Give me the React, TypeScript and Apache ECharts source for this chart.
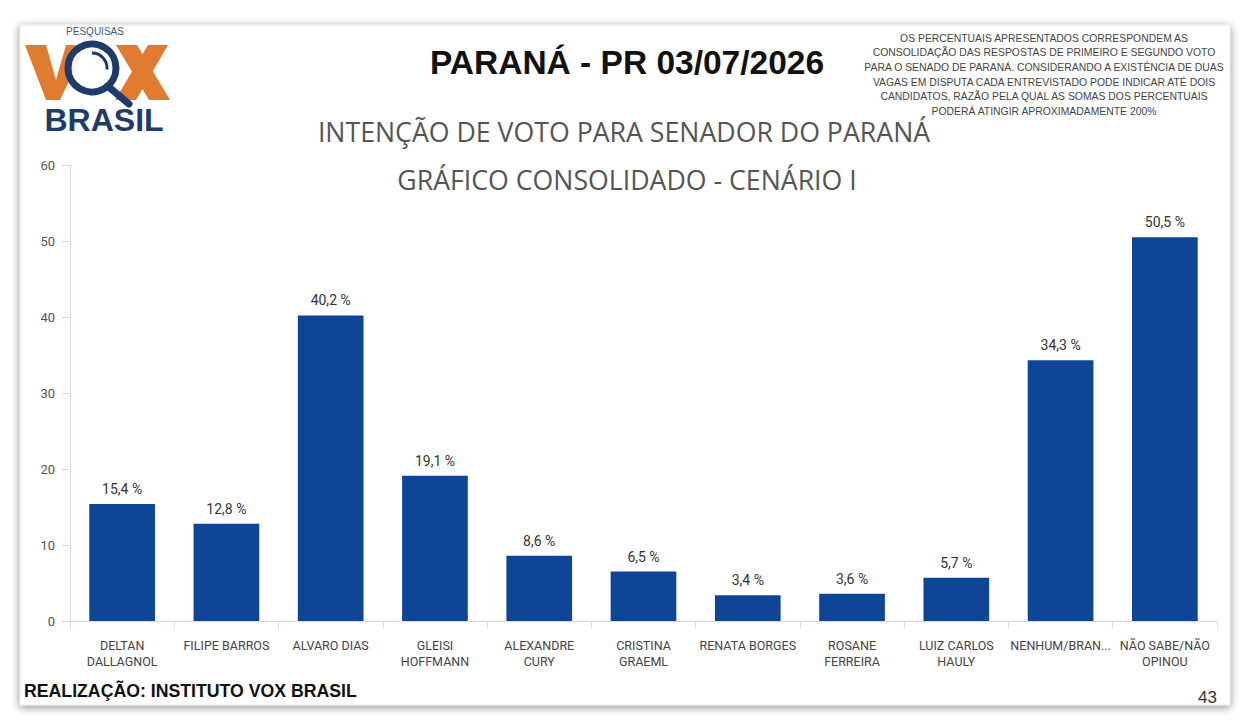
import React, { useEffect, useRef } from "react";
import * as echarts from "echarts";

const categories = [
  "DELTAN\nDALLAGNOL",
  "FILIPE BARROS",
  "ALVARO DIAS",
  "GLEISI\nHOFFMANN",
  "ALEXANDRE\nCURY",
  "CRISTINA\nGRAEML",
  "RENATA BORGES",
  "ROSANE\nFERREIRA",
  "LUIZ CARLOS\nHAULY",
  "NENHUM/BRAN...",
  "NÃO SABE/NÃO\nOPINOU",
];
const values = [15.4, 12.8, 40.2, 19.1, 8.6, 6.5, 3.4, 3.6, 5.7, 34.3, 50.5];
const yTicks = [0, 10, 20, 30, 40, 50, 60];

const title = "PARANÁ - PR 03/07/2026";
const subtitle1 = "INTENÇÃO DE VOTO PARA SENADOR DO PARANÁ";
const subtitle2 = "GRÁFICO CONSOLIDADO - CENÁRIO I";
const noteLines = [
  "OS PERCENTUAIS APRESENTADOS CORRESPONDEM AS",
  "CONSOLIDAÇÃO DAS RESPOSTAS DE PRIMEIRO E SEGUNDO VOTO",
  "PARA O SENADO DE PARANÁ. CONSIDERANDO A EXISTÊNCIA DE DUAS",
  "VAGAS EM DISPUTA CADA ENTREVISTADO PODE INDICAR ATÉ DOIS",
  "CANDIDATOS, RAZÃO PELA QUAL AS SOMAS DOS PERCENTUAIS",
  "PODERÁ ATINGIR APROXIMADAMENTE 200%",
];
const footer = "REALIZAÇÃO: INSTITUTO VOX BRASIL";
const pageNo = "43";

const LABEL_FONT = "Roboto, 'Liberation Sans', sans-serif";
const ARIAL = "'Liberation Sans', Arial, sans-serif";
const ORANGE = "#E07A2E";
const NAVY = "#1D3C6B";

export default function App() {
  const ref = useRef<HTMLDivElement>(null);
  useEffect(() => {
    if (!ref.current) return;
    const chart = echarts.init(ref.current, null, { renderer: "svg" });
    chart.setOption({
      animation: false,
      backgroundColor: "#ffffff",
      grid: { left: 70, right: 25, top: 165, bottom: 99 },
      xAxis: {
        type: "category",
        data: categories,
        boundaryGap: true,
        axisLine: { show: true, lineStyle: { color: "#d5dbe3" } },
        axisTick: { show: true, length: 8, lineStyle: { color: "#d5dbe3" } },
        axisLabel: {
          interval: 0,
          color: "#444",
          fontFamily: LABEL_FONT,
          fontSize: 12.5,
          lineHeight: 16,
          margin: 16,
        },
      },
      yAxis: {
        type: "value",
        min: yTicks[0],
        max: yTicks[yTicks.length - 1],
        interval: 10,
        axisLine: { show: true, lineStyle: { color: "#d5dbe3" } },
        axisTick: { show: true, length: 8, lineStyle: { color: "#d5dbe3" } },
        splitLine: { show: false },
        axisLabel: { color: "#555", fontFamily: LABEL_FONT, fontSize: 13, margin: 15 },
      },
      series: [
        {
          type: "bar",
          data: values,
          barWidth: "63%",
          itemStyle: { color: "#0E4597" },
          label: {
            show: true,
            position: "top",
            distance: 8,
            color: "#333",
            fontFamily: LABEL_FONT,
            fontSize: 14,
            formatter: (p: any) => String(p.value).replace(".", ",") + " %",
          },
        },
      ],
      graphic: [
        {
          type: "rect",
          z: -10,
          shape: { x: 20, y: 25, width: 1210, height: 680 },
          style: {
            fill: "#ffffff",
            stroke: "#e4e8ec",
            lineWidth: 1,
            shadowBlur: 8,
            shadowColor: "rgba(0,0,0,0.45)",
            shadowOffsetY: 2,
          },
        },
        {
          type: "text",
          x: 627,
          y: 62,
          style: {
            text: title,
            fontSize: 33.5,
            fontWeight: "bold",
            fontFamily: ARIAL,
            fill: "#111",
            align: "center",
            verticalAlign: "middle",
          },
        },
        {
          type: "text",
          x: 624,
          y: 131,
          style: {
            text: subtitle1,
            fontSize: 26.7,
            fontFamily: "'Open Sans', sans-serif",
            fill: "#555",
            align: "center",
            verticalAlign: "middle",
          },
        },
        {
          type: "text",
          x: 627,
          y: 179,
          style: {
            text: subtitle2,
            fontSize: 26.7,
            fontFamily: "'Open Sans', sans-serif",
            fill: "#555",
            align: "center",
            verticalAlign: "middle",
          },
        },
        {
          type: "text",
          x: 1044,
          y: 31,
          style: {
            text: noteLines.join("\n"),
            fontSize: 10.4,
            lineHeight: 14.6,
            fontFamily: ARIAL,
            fill: "#444",
            align: "center",
            verticalAlign: "top",
          },
        },
        {
          type: "text",
          x: 24,
          y: 691,
          style: {
            text: footer,
            fontSize: 17.7,
            fontWeight: "bold",
            fontFamily: ARIAL,
            fill: "#111",
            align: "left",
            verticalAlign: "middle",
          },
        },
        {
          type: "text",
          x: 1217,
          y: 697,
          style: {
            text: pageNo,
            fontSize: 17,
            fontFamily: ARIAL,
            fill: "#333",
            align: "right",
            verticalAlign: "middle",
          },
        },
        // logo
        {
          type: "group",
          children: [
            {
              type: "text",
              x: 95,
              y: 31,
              style: {
                text: "PESQUISAS",
                fontSize: 10,
                lineHeight: 10,
                fontFamily: ARIAL,
                fill: "#3a5a88",
                align: "center",
                verticalAlign: "middle",
              },
            },
            {
              type: "polygon",
              shape: {
                points: [
                  [25, 45], [46, 45], [56, 80], [66, 45], [86, 45], [60, 100], [46, 100],
                ],
              },
              style: { fill: ORANGE },
            },
            {
              type: "polygon",
              shape: { points: [[116, 45], [137, 45], [170, 100], [149, 100]] },
              style: { fill: ORANGE },
            },
            {
              type: "polygon",
              shape: { points: [[148, 45], [168, 45], [136, 100], [115, 100]] },
              style: { fill: ORANGE },
            },
            {
              type: "circle",
              shape: { cx: 92, cy: 68, r: 24 },
              style: { fill: "rgba(255,255,255,0.9)", stroke: NAVY, lineWidth: 7 },
            },
            {
              type: "arc",
              shape: { cx: 92, cy: 68, r: 15, startAngle: -Math.PI * 0.5, endAngle: 0.1 },
              style: { stroke: NAVY, lineWidth: 3, fill: "none" },
            },
            {
              type: "line",
              shape: { x1: 110, y1: 88, x2: 129, y2: 104 },
              style: { stroke: NAVY, lineWidth: 7, lineCap: "round" },
            },
            {
              type: "text",
              x: 104,
              y: 120,
              style: {
                text: "BRASIL",
                fontSize: 32,
                lineHeight: 30,
                fontWeight: "bold",
                fontFamily: ARIAL,
                fill: NAVY,
                align: "center",
                verticalAlign: "middle",
              },
            },
          ],
        },
      ],
    });
    return () => chart.dispose();
  }, []);
  return (
    <div
      ref={ref}
      style={{ position: "absolute", left: 0, top: 0, width: 1242, height: 720 }}
    />
  );
}
